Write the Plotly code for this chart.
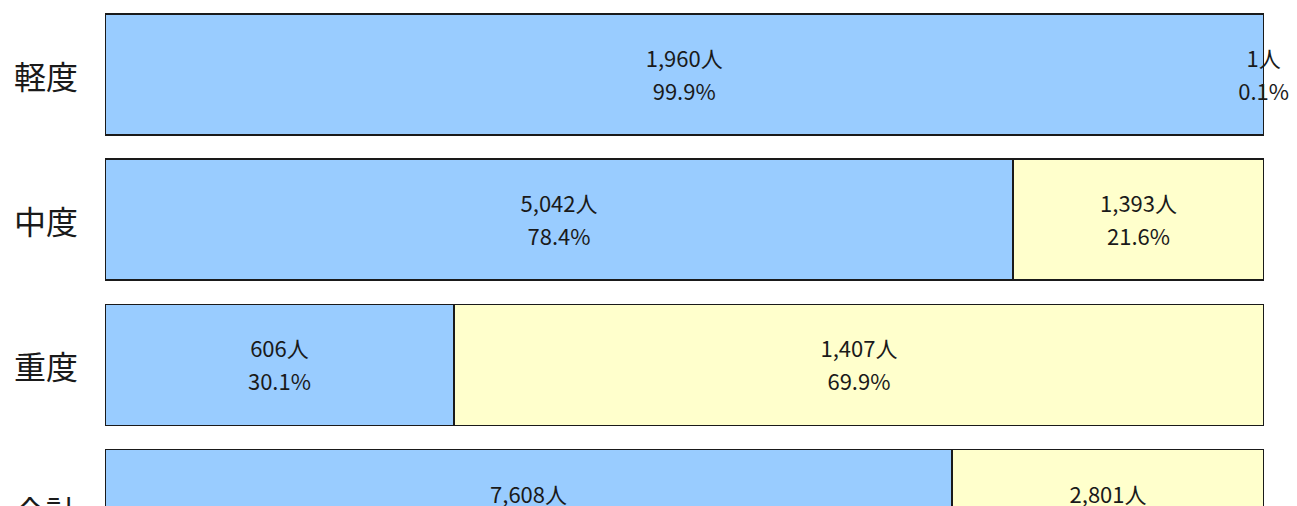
import plotly.graph_objects as go

categories = ["軽度", "中度", "重度", "合計"]
blue_counts = [1960, 5042, 606, 7608]
yellow_counts = [1, 1393, 1407, 2801]
blue_pct = [99.9, 78.4, 30.1, 73.1]
yellow_pct = [0.1, 21.6, 69.9, 26.9]

BLUE = "#99CCFF"
YELLOW = "#FFFFCC"
FONT = "Noto Sans CJK JP"
TXT = "#1a1a1a"

fig = go.Figure()
for counts, color in [(blue_counts, BLUE), (yellow_counts, YELLOW)]:
    fig.add_trace(go.Bar(
        y=categories, x=counts, orientation="h",
        marker=dict(color=color, line=dict(color=TXT, width=1.5)),
        hoverinfo="skip", showlegend=False,
    ))

# label positions: centre of each segment, on the same percent scale as the bars
totals = [b + y for b, y in zip(blue_counts, yellow_counts)]
blue_share = [b / t * 100 for b, t in zip(blue_counts, totals)]
blue_mid = [s / 2 for s in blue_share]
yellow_mid = [s + (100 - s) / 2 for s in blue_share]

for mids, counts, pcts in [(blue_mid, blue_counts, blue_pct), (yellow_mid, yellow_counts, yellow_pct)]:
    for texts, pos, msize in [([f"{c:,}人" for c in counts], "top center", 1.6),
                              ([f"{p:.1f}%" for p in pcts], "bottom center", 12.8)]:
        fig.add_trace(go.Scatter(
            x=mids, y=categories, mode="text+markers", text=texts, textposition=pos,
            marker=dict(size=msize, opacity=0),
            textfont=dict(family=FONT, size=22, color=TXT),
            cliponaxis=False, hoverinfo="skip", showlegend=False,
        ))

for cat in categories:
    fig.add_annotation(x=-0.0505, xref="paper", y=cat, yref="y", text=cat,
                       showarrow=False, xanchor="center", yanchor="middle",
                       font=dict(family=FONT, size=32, color=TXT))

fig.update_layout(
    width=1289, height=582, barmode="stack", barnorm="percent", bargap=0.167,
    margin=dict(l=97, r=33, t=0, b=0),
    paper_bgcolor="white", plot_bgcolor="white",
    xaxis=dict(range=[0, 100], visible=False, fixedrange=True),
    yaxis=dict(categoryorder="array", categoryarray=categories,
               range=[3.55, -0.458], showticklabels=False, showgrid=False,
               zeroline=False, showline=False, ticks=""),
)

fig.write_html("out.html")
